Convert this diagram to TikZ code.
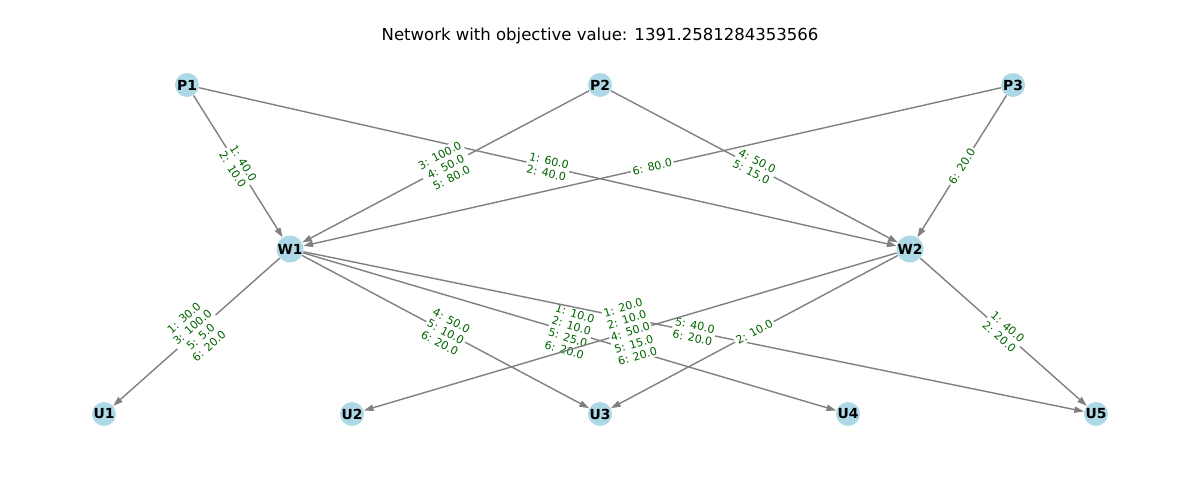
\documentclass[tikz,border=0pt]{standalone}
\usepackage{fontspec}
\setmainfont{DejaVu Sans}
\usetikzlibrary{arrows.meta}
\definecolor{nodeblue}{HTML}{ADD8E6}
\definecolor{flowgreen}{HTML}{006400}
\definecolor{edgegray}{HTML}{808080}

\begin{document}
\begin{tikzpicture}[x = 0.02cm, y = -0.02cm,
    vertex/.style = {circle, fill=nodeblue, minimum size=0.48cm, inner sep=0pt,
        font=\fontsize{7.9}{9}\selectfont\bfseries},
    flow/.style = {draw=edgegray, line width=0.8pt,
        -{Triangle[length=5.5pt, width=3.6pt]}},
    amount/.style = {sloped, midway, fill=white, inner sep=1pt, text=flowgreen,
        align=center, font=\fontsize{6.3}{7.2}\selectfont}]
    \useasboundingbox (0,0) rectangle (1200,500);

    % Title
    \node (title) at (600,36) {\fontsize{9.4}{11}\selectfont Network with objective value: 1391.2581284353566};

    % Plants
    \node[vertex] (P1) at (187,85) {P1};
    \node[vertex] (P2) at (600,85) {P2};
    \node[vertex] (P3) at (1013,85) {P3};
    % Warehouses
    \node[vertex] (W1) at (290,249) {W1};
    \node[vertex] (W2) at (910,249) {W2};
    % Customers
    \node[vertex] (U1) at (104,414) {U1};
    \node[vertex] (U2) at (352,414) {U2};
    \node[vertex] (U3) at (600,414) {U3};
    \node[vertex] (U4) at (848,414) {U4};
    \node[vertex] (U5) at (1096,414) {U5};

    % Plants to warehouses
    \draw[flow] (P1) -- node[amount] {1: 40.0\\2: 10.0} (W1);
    \draw[flow] (P1) -- node[amount] {1: 60.0\\2: 40.0} (W2);
    \draw[flow] (P2) -- node[amount] {3: 100.0\\4: 50.0\\5: 80.0} (W1);
    \draw[flow] (P2) -- node[amount] {4: 50.0\\5: 15.0} (W2);
    \draw[flow] (P3) -- node[amount] {6: 80.0} (W1);
    \draw[flow] (P3) -- node[amount] {6: 20.0} (W2);

    % Warehouses to customers
    \draw[flow] (W1) -- node[amount] {1: 30.0\\3: 100.0\\5: 5.0\\6: 20.0} (U1);
    \draw[flow] (W1) -- node[amount] {4: 50.0\\5: 10.0\\6: 20.0} (U3);
    \draw[flow] (W1) -- node[amount] {1: 10.0\\2: 10.0\\5: 25.0\\6: 20.0} (U4);
    \draw[flow] (W1) -- node[amount] {5: 40.0\\6: 20.0} (U5);
    \draw[flow] (W2) -- node[amount] {1: 20.0\\2: 10.0\\4: 50.0\\5: 15.0\\6: 20.0} (U2);
    \draw[flow] (W2) -- node[amount] {2: 10.0} (U3);
    \draw[flow] (W2) -- node[amount] {1: 40.0\\2: 20.0} (U5);
\end{tikzpicture}
\end{document}
